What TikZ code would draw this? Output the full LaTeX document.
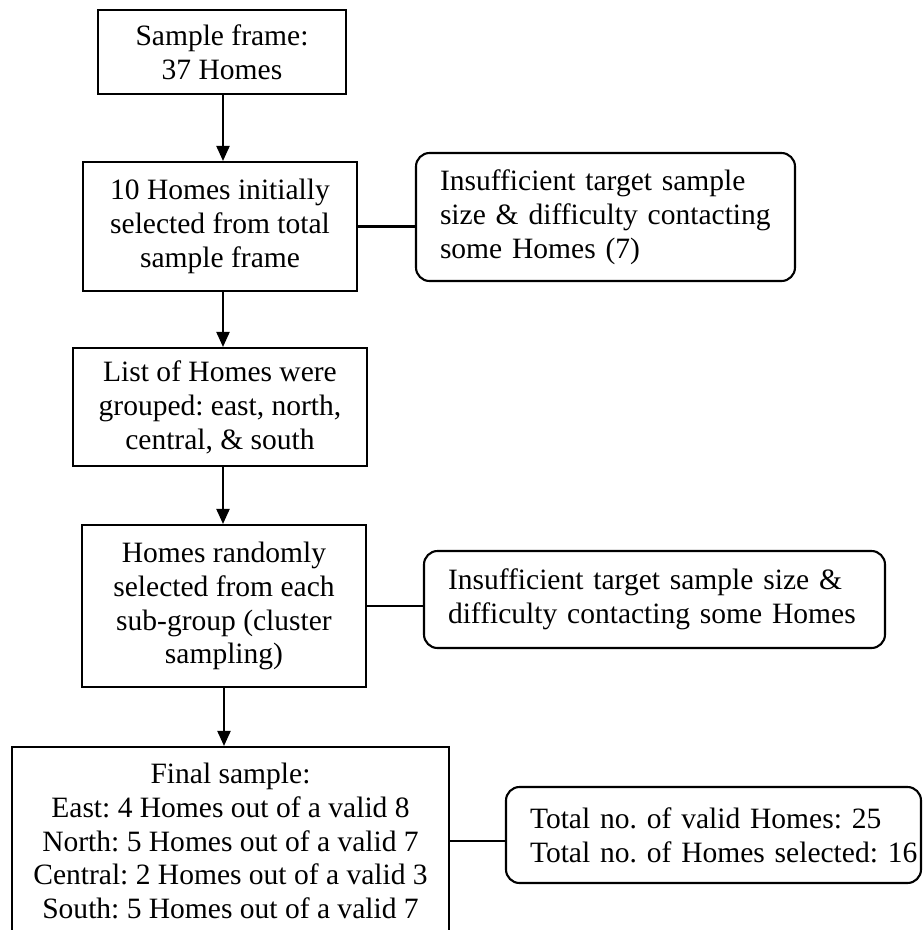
\documentclass[tikz,border=0pt]{standalone}
\usepackage{fontspec}
\setmainfont{Liberation Serif}
\usetikzlibrary{arrows.meta}
\def\pxu{0.4065pt}
\frenchspacing
\begin{document}
\begin{tikzpicture}[x=\pxu, y=-\pxu,
  every node/.style={font=\fontsize{12pt}{13.8pt}\selectfont},
  stage/.style={draw, line width=0.85pt, align=center, inner sep=0pt},
  note/.style={draw, line width=0.85pt, rounded corners=5.5pt, align=left, inner xsep=24*\pxu, inner ysep=0pt},
  arr/.style={line width=0.85pt, -{Triangle[width=13*\pxu,length=15*\pxu]}},
  link/.style={line width=0.85pt}]
\useasboundingbox (0,0) rectangle (924,930);
\clip (0,0) rectangle (924,930);
\coordinate (ax) at (223,0);

\node[stage, minimum width=248*\pxu, minimum height=84*\pxu] (B1) at (222,52) {Sample frame:\\37 Homes};
\node[stage, minimum width=274*\pxu, minimum height=129*\pxu] (B2) at (220,226.5) {10 Homes initially\\selected from total\\sample frame};
\node[stage, minimum width=294*\pxu, minimum height=118*\pxu] (B3) at (220,407) {List of Homes were\\grouped: east, north,\\central, \& south};
\node[stage, minimum width=284*\pxu, minimum height=162*\pxu] (B4) at (224,606) {Homes randomly\\selected from each\\sub-group (cluster\\sampling)};
\node[stage, minimum width=437*\pxu, minimum height=188*\pxu] (B5) at (230.5,841) {Final sample:\\East: 4 Homes out of a valid 8\\North: 5 Homes out of a valid 7\\Central: 2 Homes out of a valid 3\\South: 5 Homes out of a valid 7};

\node[note, text width=331*\pxu, minimum height=128*\pxu] (R1) at (605.5,217) {Insufficient target sample\\size \& difficulty contacting\\some Homes (7)};
\node[note, text width=413*\pxu, minimum height=97*\pxu] (R2) at (654.5,599.5) {Insufficient target sample size \&\\difficulty contacting some Homes};
\node[note, text width=367*\pxu, minimum height=96*\pxu] (R3) at (713.5,835) {\mbox{Total no. of valid Homes: 25}\\\mbox{Total no. of Homes selected: 16}};

\draw[arr] (B1.south -| ax) -- (B2.north -| ax);
\draw[arr] (B2.south -| ax) -- (B3.north -| ax);
\draw[arr] (B3.south -| ax) -- (B4.north -| ax);
\draw[arr] (B4.south) -- (B4.south |- B5.north);

\draw[link] (B2.east) -- (B2.east -| R1.west);
\draw[link] (B4.east) -- (B4.east -| R2.west);
\draw[link] (B5.east) -- (B5.east -| R3.west);
\end{tikzpicture}
\end{document}
